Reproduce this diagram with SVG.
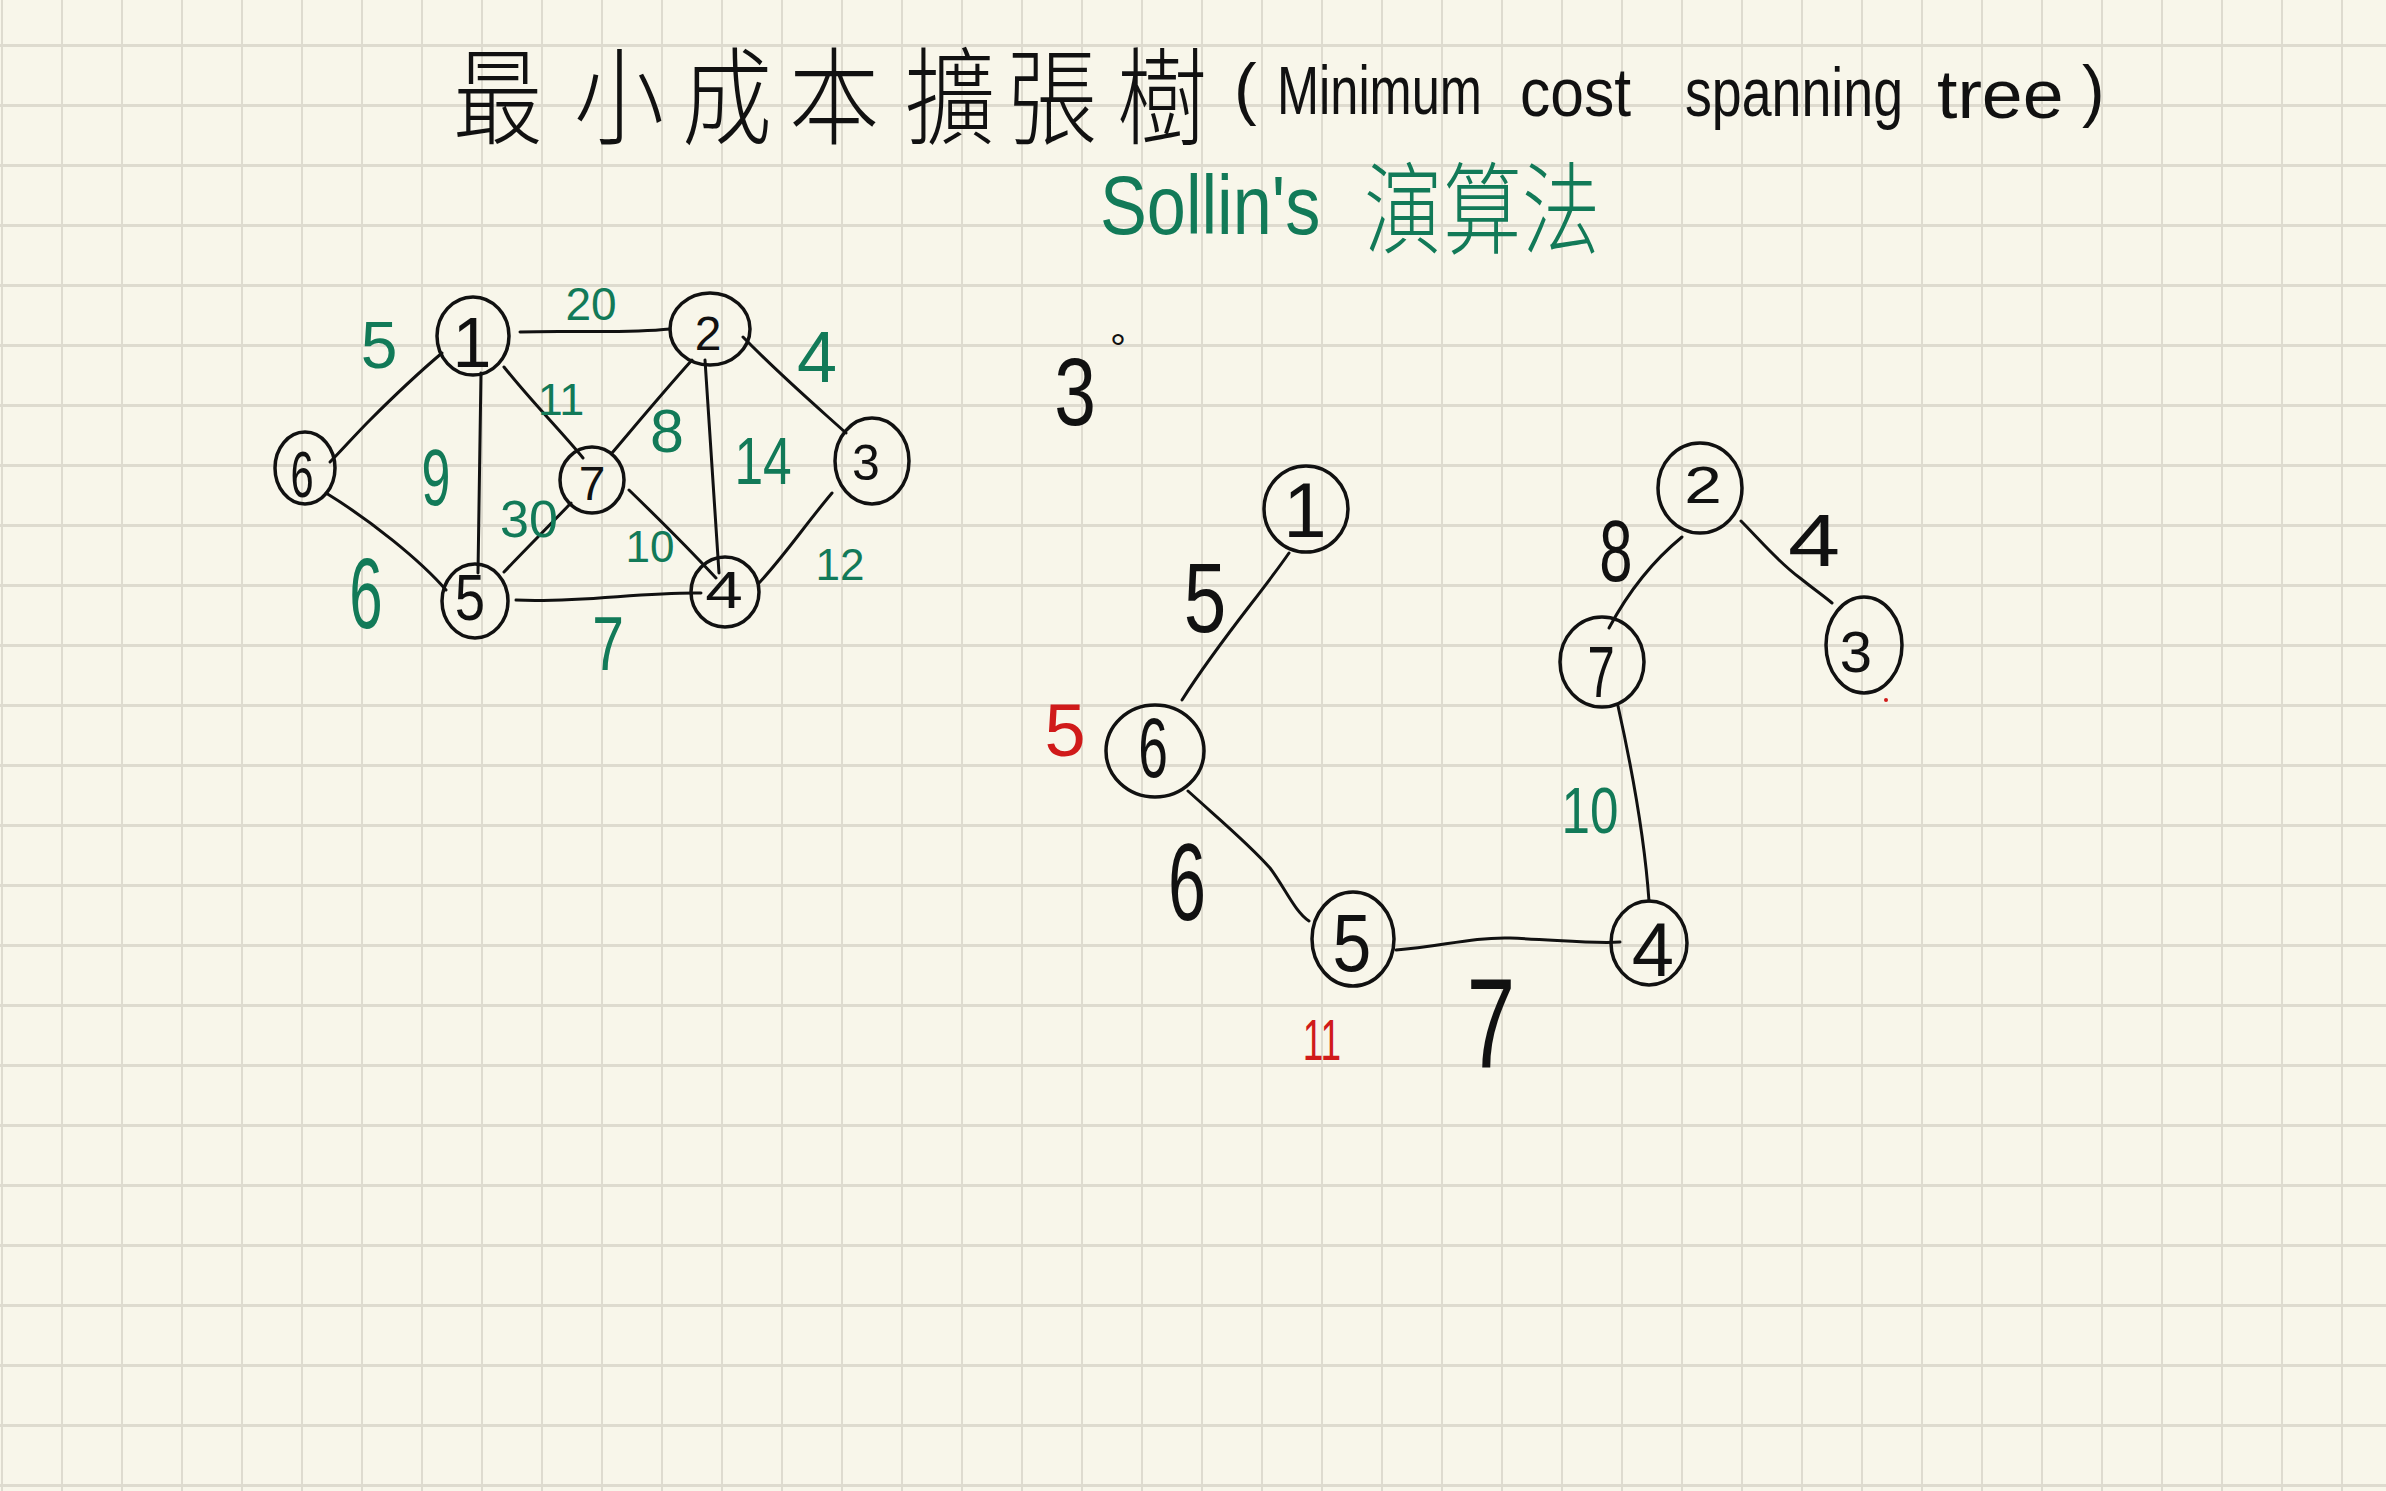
<svg xmlns="http://www.w3.org/2000/svg" width="2386" height="1491" viewBox="0 0 2386 1491">
<defs>
<style>
.bg{fill:#f8f6ea}
.gv{stroke:#dedbcf;stroke-width:2;fill:none}
.gh{stroke:#dedbcf;stroke-width:3;fill:none}
.node{fill:none;stroke:#111;stroke-width:3.5}
.edge{fill:none;stroke:#111;stroke-width:3;stroke-linecap:round}
.t{font-family:"Liberation Sans",Arial,sans-serif;fill:#111;text-anchor:middle}
.cjk{font-family:"Noto Sans CJK TC","Noto Sans CJK SC",sans-serif;font-weight:300;text-anchor:middle}
.lat{font-family:"Liberation Sans",Arial,sans-serif}
.blk{fill:#111}
.grn{fill:#127a58}
.red{fill:#d01a1a}
</style>
</defs>
<rect class="bg" x="0" y="0" width="2386" height="1491"/>
<g id="grid">
<path class="gv" d="M2,0V1491M62,0V1491M122,0V1491M182,0V1491M242,0V1491M302,0V1491M362,0V1491M422,0V1491M482,0V1491M542,0V1491M602,0V1491M662,0V1491M722,0V1491M782,0V1491M842,0V1491M902,0V1491M962,0V1491M1022,0V1491M1082,0V1491M1142,0V1491M1202,0V1491M1262,0V1491M1322,0V1491M1382,0V1491M1442,0V1491M1502,0V1491M1562,0V1491M1622,0V1491M1682,0V1491M1742,0V1491M1802,0V1491M1862,0V1491M1922,0V1491M1982,0V1491M2042,0V1491M2102,0V1491M2162,0V1491M2222,0V1491M2282,0V1491M2342,0V1491"/>
<path class="gh" d="M0,45.5H2386M0,105.5H2386M0,165.5H2386M0,225.5H2386M0,285.5H2386M0,345.5H2386M0,405.5H2386M0,465.5H2386M0,525.5H2386M0,585.5H2386M0,645.5H2386M0,705.5H2386M0,765.5H2386M0,825.5H2386M0,885.5H2386M0,945.5H2386M0,1005.5H2386M0,1065.5H2386M0,1125.5H2386M0,1185.5H2386M0,1245.5H2386M0,1305.5H2386M0,1365.5H2386M0,1425.5H2386M0,1485.5H2386"/>
</g>
<g id="title">
<text class="cjk blk" font-size="106" transform="translate(498 136) scale(0.85 1)">最</text>
<text class="cjk blk" font-size="106" transform="translate(619 136) scale(0.85 1)">小</text>
<text class="cjk blk" font-size="106" transform="translate(727 136) scale(0.85 1)">成</text>
<text class="cjk blk" font-size="106" transform="translate(834 136) scale(0.85 1)">本</text>
<text class="cjk blk" font-size="106" transform="translate(950 136) scale(0.85 1)">擴</text>
<text class="cjk blk" font-size="106" transform="translate(1052 136) scale(0.85 1)">張</text>
<text class="cjk blk" font-size="106" transform="translate(1162 136) scale(0.85 1)">樹</text>
<text class="lat blk" font-size="68" y="112" x="1234">(</text>
<text class="lat blk" font-size="68" transform="translate(1277 114) scale(0.743 1)">Minimum</text>
<text class="lat blk" font-size="68" transform="translate(1520 116) scale(0.89 1)">cost</text>
<text class="lat blk" font-size="68" transform="translate(1685 116) scale(0.79 1)">spanning</text>
<text class="lat blk" font-size="68" transform="translate(1937 118) scale(1.08 1)">tree</text>
<text class="lat blk" font-size="68" y="114" x="2082">)</text>
<text class="lat grn" font-size="84" transform="translate(1100 234) scale(0.836 1)">Sollin's</text>
<text class="cjk grn" font-size="100" transform="translate(1403 246) scale(0.78 1)">演</text>
<text class="cjk grn" font-size="100" transform="translate(1482 246) scale(0.78 1)">算</text>
<text class="cjk grn" font-size="100" transform="translate(1561 246) scale(0.78 1)">法</text>
</g>
<g id="connectors">
<path class="edge" d="M520,332 C570,330 620,334 670,329"/>
<path class="edge" d="M743,337 C780,375 815,405 846,433"/>
<path class="edge" d="M442,353 C410,380 385,405 370,420 C355,435 342,450 330,462"/>
<path class="edge" d="M481,373 L478,573"/>
<path class="edge" d="M504,367 C530,400 560,430 583,458"/>
<path class="edge" d="M692,360 C665,390 640,420 612,453"/>
<path class="edge" d="M705,360 L719,573"/>
<path class="edge" d="M326,493 C370,520 420,560 446,590"/>
<path class="edge" d="M571,503 C545,530 525,550 504,572"/>
<path class="edge" d="M629,490 C660,520 690,550 716,578"/>
<path class="edge" d="M832,493 C805,525 785,555 759,583"/>
<path class="edge" d="M516,600 C580,603 640,592 701,593"/>
<path class="edge" d="M1289,553 C1260,595 1220,640 1182,700"/>
<path class="edge" d="M1188,791 C1220,820 1250,845 1270,868 C1285,888 1295,912 1309,921"/>
<path class="edge" d="M1396,950 C1440,947 1470,937 1510,938 C1560,940 1595,944 1620,942"/>
<path class="edge" d="M1682,537 C1660,555 1632,585 1609,628"/>
<path class="edge" d="M1741,521 C1760,540 1777,561 1800,578 C1815,590 1825,597 1832,603"/>
<path class="edge" d="M1618,706 C1630,760 1644,830 1649,901"/>
</g>
<g id="weights">
<text class="t grn" font-size="66" x="379" y="368">5</text>
<text class="t grn" font-size="46" x="591" y="320">20</text>
<text class="t grn" font-size="72" x="817" y="382">4</text>
<text class="t grn" font-size="45" x="561" y="415">11</text>
<text class="t grn" font-size="61" x="667" y="452">8</text>
<text class="t grn" font-size="80" transform="translate(436 505) scale(0.65 1)">9</text>
<text class="t grn" font-size="66" transform="translate(763 484) scale(0.78 1)">14</text>
<text class="t grn" font-size="52" x="529" y="537">30</text>
<text class="t grn" font-size="44" x="650" y="562">10</text>
<text class="t grn" font-size="44" x="840" y="580">12</text>
<text class="t grn" font-size="100" transform="translate(366 628) scale(0.6 1)">6</text>
<text class="t grn" font-size="76" transform="translate(608 670) scale(0.75 1)">7</text>
<text class="t blk" font-size="96" transform="translate(1075 425) scale(0.78 1)">3</text>
<text class="t blk" font-size="40" x="1118" y="362">°</text>
<text class="t blk" font-size="98" transform="translate(1205 632) scale(0.78 1)">5</text>
<text class="t red" font-size="74" x="1065" y="756">5</text>
<text class="t blk" font-size="110" transform="translate(1187 920) scale(0.62 1)">6</text>
<text class="t red" font-size="57" transform="translate(1322 1060) scale(0.65 1)">11</text>
<text class="t blk" font-size="128" transform="translate(1491 1068) scale(0.68 1)">7</text>
<text class="t blk" font-size="88" transform="translate(1616 581) scale(0.68 1)">8</text>
<text class="t blk" font-size="75" transform="translate(1814 566) scale(1.25 1)">4</text>
<text class="t grn" font-size="64" transform="translate(1590 833) scale(0.8 1)">10</text>
<circle cx="1886" cy="700" r="2" fill="#d01a1a"/>
</g>
<g id="graph1">
<g id="g1-node1"><ellipse class="node" cx="473" cy="336" rx="36" ry="39"/><text class="t" font-size="70" x="472" y="367">1</text></g>
<g id="g1-node2"><ellipse class="node" cx="710" cy="329" rx="40" ry="36"/><text class="t" font-size="48" x="708" y="350">2</text></g>
<g id="g1-node3"><ellipse class="node" cx="872" cy="461" rx="37" ry="43"/><text class="t" font-size="50" x="866" y="480">3</text></g>
<g id="g1-node4"><ellipse class="node" cx="725" cy="592" rx="34" ry="35"/><text class="t" font-size="52" transform="translate(724 608) scale(1.3 1)">4</text></g>
<g id="g1-node5"><ellipse class="node" cx="475" cy="601" rx="33" ry="37"/><text class="t" font-size="64" transform="translate(470 620) scale(0.85 1)">5</text></g>
<g id="g1-node6"><ellipse class="node" cx="305" cy="468" rx="30" ry="36"/><text class="t" font-size="64" transform="translate(302 497) scale(0.65 1)">6</text></g>
<g id="g1-node7"><ellipse class="node" cx="592" cy="480" rx="32" ry="33"/><text class="t" font-size="48" x="592" y="500">7</text></g>
</g>
<g id="graph2">
<g id="g2-node1"><ellipse class="node" cx="1306" cy="509" rx="42" ry="43"/><text class="t" font-size="78" x="1305" y="537">1</text></g>
<g id="g2-node2"><ellipse class="node" cx="1700" cy="488" rx="42" ry="45"/><text class="t" font-size="52" transform="translate(1703 503) scale(1.3 1)">2</text></g>
<g id="g2-node3"><ellipse class="node" cx="1864" cy="645" rx="38" ry="48"/><text class="t" font-size="58" x="1856" y="672">3</text></g>
<g id="g2-node4"><ellipse class="node" cx="1649" cy="943" rx="38" ry="42"/><text class="t" font-size="76" x="1653" y="976">4</text></g>
<g id="g2-node5"><ellipse class="node" cx="1353" cy="939" rx="41" ry="47"/><text class="t" font-size="82" transform="translate(1352 971) scale(0.85 1)">5</text></g>
<g id="g2-node6"><ellipse class="node" cx="1155" cy="751" rx="49" ry="46"/><text class="t" font-size="86" transform="translate(1153 777) scale(0.62 1)">6</text></g>
<g id="g2-node7"><ellipse class="node" cx="1602" cy="662" rx="42" ry="45"/><text class="t" font-size="72" transform="translate(1601 697) scale(0.68 1)">7</text></g>
</g>
</svg>
